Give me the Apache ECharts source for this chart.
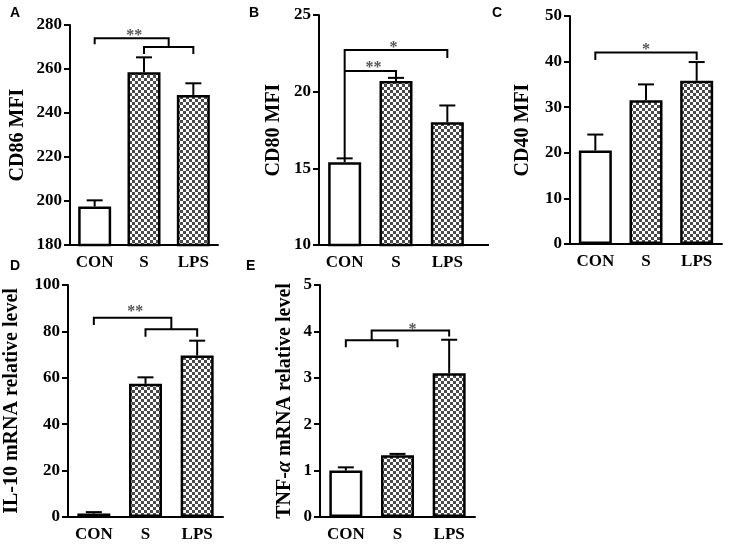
<!DOCTYPE html>
<html>
<head>
<meta charset="utf-8">
<script src="https://cdn.jsdelivr.net/npm/echarts@6/dist/echarts.min.js"></script>
<style>
html,body{margin:0;padding:0;background:#fff;}
#chart{width:733px;height:555px;}
</style>
</head>
<body>
<div id="chart"></div>
<script>
// ---------- data ----------
const categories = ['CON', 'S', 'LPS'];

const cd86Mean = [197.5, 258.5, 248.2];
const cd86Err  = [2.8, 6.8, 5.3];
const cd80Mean = [15.4, 20.7, 18.0];
const cd80Err  = [0.25, 0.2, 1.1];
const cd40Mean = [20.5, 31.5, 35.8];
const cd40Err  = [3.5, 3.5, 4.1];
const il10Mean = [1.5, 57.4, 69.6];
const il10Err  = [0.6, 2.8, 6.4];
const tnfMean  = [1.0, 1.33, 3.1];
const tnfErr   = [0.07, 0.03, 0.72];

// significance brackets: [xLeft, xRight, yBar, yLeftLegEnd, yRightLegEnd] (x in category units)
const cd86Brackets = [[0, 1.5, 274, 271.3, 270], [1, 2, 270, 266.8, 266.8]];
const cd80Brackets = [[0, 2, 22.72, 15.65, 22.2], [0, 1, 21.35, 21.35, 20.9]];
const cd40Brackets = [[0, 2, 42.0, 40.35, 40.35]];
const il10Brackets = [[0, 1.5, 85.9, 82.8, 80.9], [1, 2, 80.9, 77.7, 77.7]];
const tnfBrackets  = [[0, 1, 3.81, 3.66, 3.66], [0.5, 2, 4.02, 3.81, 3.89]];

// star labels: [x, y, text]
const cd86Stars = [[0.8, 276.4, '**']];
const cd80Stars = [[0.95, 23.05, '*'], [0.56, 21.74, '**']];
const cd40Stars = [[1.0, 43.3, '*']];
const il10Stars = [[0.8, 89.7, '**']];
const tnfStars  = [[1.29, 4.10, '*']];

// y axis settings
const yMin = [180, 10, 0, 0, 0];
const yMax = [280, 25, 50, 100, 5];
const yStep = [20, 5, 10, 20, 1];
const yNames = ['CD86 MFI', 'CD80 MFI', 'CD40 MFI', 'IL-10 mRNA relative level', 'TNF-{i|α} mRNA relative level'];
const panelLetters = ['A', 'B', 'C', 'D', 'E'];

// ---------- styling ----------
const grids = [
  {left: 70, top: 25, width: 148, height: 220},
  {left: 319, top: 15, width: 154, height: 230},
  {left: 570, top: 16, width: 152, height: 228},
  {left: 68, top: 285, width: 155, height: 232},
  {left: 320, top: 285, width: 155, height: 232}
];
const nameGaps = [42, 35, 37, 46, 25];
const nameSizes = [20, 20, 20, 20, 20];
const letterPos = [[10, 6], [249, 6], [492, 6], [10, 259], [246, 259]];
const SERIF = '"Liberation Serif","Times New Roman",serif';

// checker pattern
const pat = document.createElement('canvas');
pat.width = 6; pat.height = 6;
const pc = pat.getContext('2d');
pc.fillStyle = '#ffffff'; pc.fillRect(0, 0, 6, 6);
pc.fillStyle = '#4a4a4a'; pc.fillRect(0, 0, 3, 3); pc.fillRect(3, 3, 3, 3);
const patternFill = {image: pat, repeat: 'repeat'};

const means = [cd86Mean, cd80Mean, cd40Mean, il10Mean, tnfMean];
const errs = [cd86Err, cd80Err, cd40Err, il10Err, tnfErr];
const brackets = [cd86Brackets, cd80Brackets, cd40Brackets, il10Brackets, tnfBrackets];
const stars = [cd86Stars, cd80Stars, cd40Stars, il10Stars, tnfStars];

function px(api, x, y) {
  const a = Math.floor(x), b = Math.ceil(x), f = x - a;
  const pa = api.coord([a, y]), pb = api.coord([b, y]);
  return [pa[0] + (pb[0] - pa[0]) * f, pa[1]];
}
const lineStyle = {stroke: '#000', lineWidth: 2};

const xAxes = [], yAxes = [], series = [];
for (let k = 0; k < 5; k++) {
  xAxes.push({
    type: 'category', gridIndex: k, data: categories,
    axisLine: {lineStyle: {color: '#000', width: 2}},
    axisTick: {alignWithLabel: true, length: 6, lineStyle: {color: '#000', width: 2}},
    axisLabel: {color: '#000', fontFamily: SERIF, fontWeight: 'bold', fontSize: 17, margin: 9},
    splitLine: {show: false}
  });
  yAxes.push({
    type: 'value', gridIndex: k, min: yMin[k], max: yMax[k], interval: yStep[k],
    name: yNames[k], nameLocation: 'middle', nameGap: nameGaps[k], nameRotate: 90,
    nameTextStyle: {color: '#000', fontFamily: SERIF, fontWeight: 'bold', fontSize: nameSizes[k],
      rich: {i: {fontStyle: 'italic', fontFamily: SERIF, fontWeight: 'bold', fontSize: nameSizes[k], color: '#000'}}},
    axisLine: {show: true, lineStyle: {color: '#000', width: 2}},
    axisTick: {show: true, length: 6, lineStyle: {color: '#000', width: 2}},
    axisLabel: {color: '#000', fontFamily: SERIF, fontWeight: 'bold', fontSize: 17, margin: 8},
    splitLine: {show: false}
  });
  series.push({
    type: 'bar', xAxisIndex: k, yAxisIndex: k, barWidth: 33,
    data: means[k].map((v, i) => ({
      value: v,
      itemStyle: {color: i === 0 ? '#ffffff' : patternFill, borderColor: '#000', borderWidth: 2.5}
    })),
    animation: false, z: 2
  });
  const m = means[k], e = errs[k];
  series.push({
    type: 'custom', xAxisIndex: k, yAxisIndex: k, z: 3,
    data: m.map((v, i) => [i, v, e[i]]),
    renderItem: function (params, api) {
      const x = api.value(0), v = api.value(1), er = api.value(2);
      const p0 = api.coord([x, v]), p1 = api.coord([x, v + er]);
      return {type: 'group', children: [
        {type: 'line', shape: {x1: p0[0], y1: p0[1], x2: p1[0], y2: p1[1]}, style: lineStyle},
        {type: 'line', shape: {x1: p1[0] - 8, y1: p1[1], x2: p1[0] + 8, y2: p1[1]}, style: lineStyle}
      ]};
    },
    animation: false
  });
  const br = brackets[k];
  series.push({
    type: 'custom', xAxisIndex: k, yAxisIndex: k, z: 4,
    data: br.map((b, i) => i),
    renderItem: function (params, api) {
      const b = br[params.dataIndex];
      const L = px(api, b[0], b[2]), R = px(api, b[1], b[2]);
      const Le = px(api, b[0], b[3]), Re = px(api, b[1], b[4]);
      return {type: 'polyline', shape: {points: [[Le[0], Le[1]], L, R, [Re[0], Re[1]]]},
        style: {stroke: '#000', lineWidth: 2, fill: null}};
    },
    animation: false
  });
  const st = stars[k];
  series.push({
    type: 'custom', xAxisIndex: k, yAxisIndex: k, z: 5,
    data: st.map((s, i) => i),
    renderItem: function (params, api) {
      const s = st[params.dataIndex];
      const p = px(api, s[0], s[1]);
      return {type: 'text', x: p[0], y: p[1] + 3,
        style: {text: s[2], fill: '#555', font: 'bold 16px ' + SERIF, align: 'center', verticalAlign: 'middle'}};
    },
    animation: false
  });
}

const chart = echarts.init(document.getElementById('chart'), null, {renderer: 'canvas'});
chart.setOption({
  backgroundColor: '#ffffff',
  animation: false,
  grid: grids,
  xAxis: xAxes,
  yAxis: yAxes,
  series: series,
  graphic: panelLetters.map((t, i) => ({
    type: 'text', left: letterPos[i][0], top: letterPos[i][1],
    style: {text: t, fill: '#000', font: 'bold 14px "Liberation Sans", Arial, sans-serif'}
  })).concat([
    {type: 'line', shape: {x1: 472, y1: 245, x2: 489, y2: 245}, style: {stroke: '#000', lineWidth: 2}}
  ])
});
</script>
</body>
</html>
